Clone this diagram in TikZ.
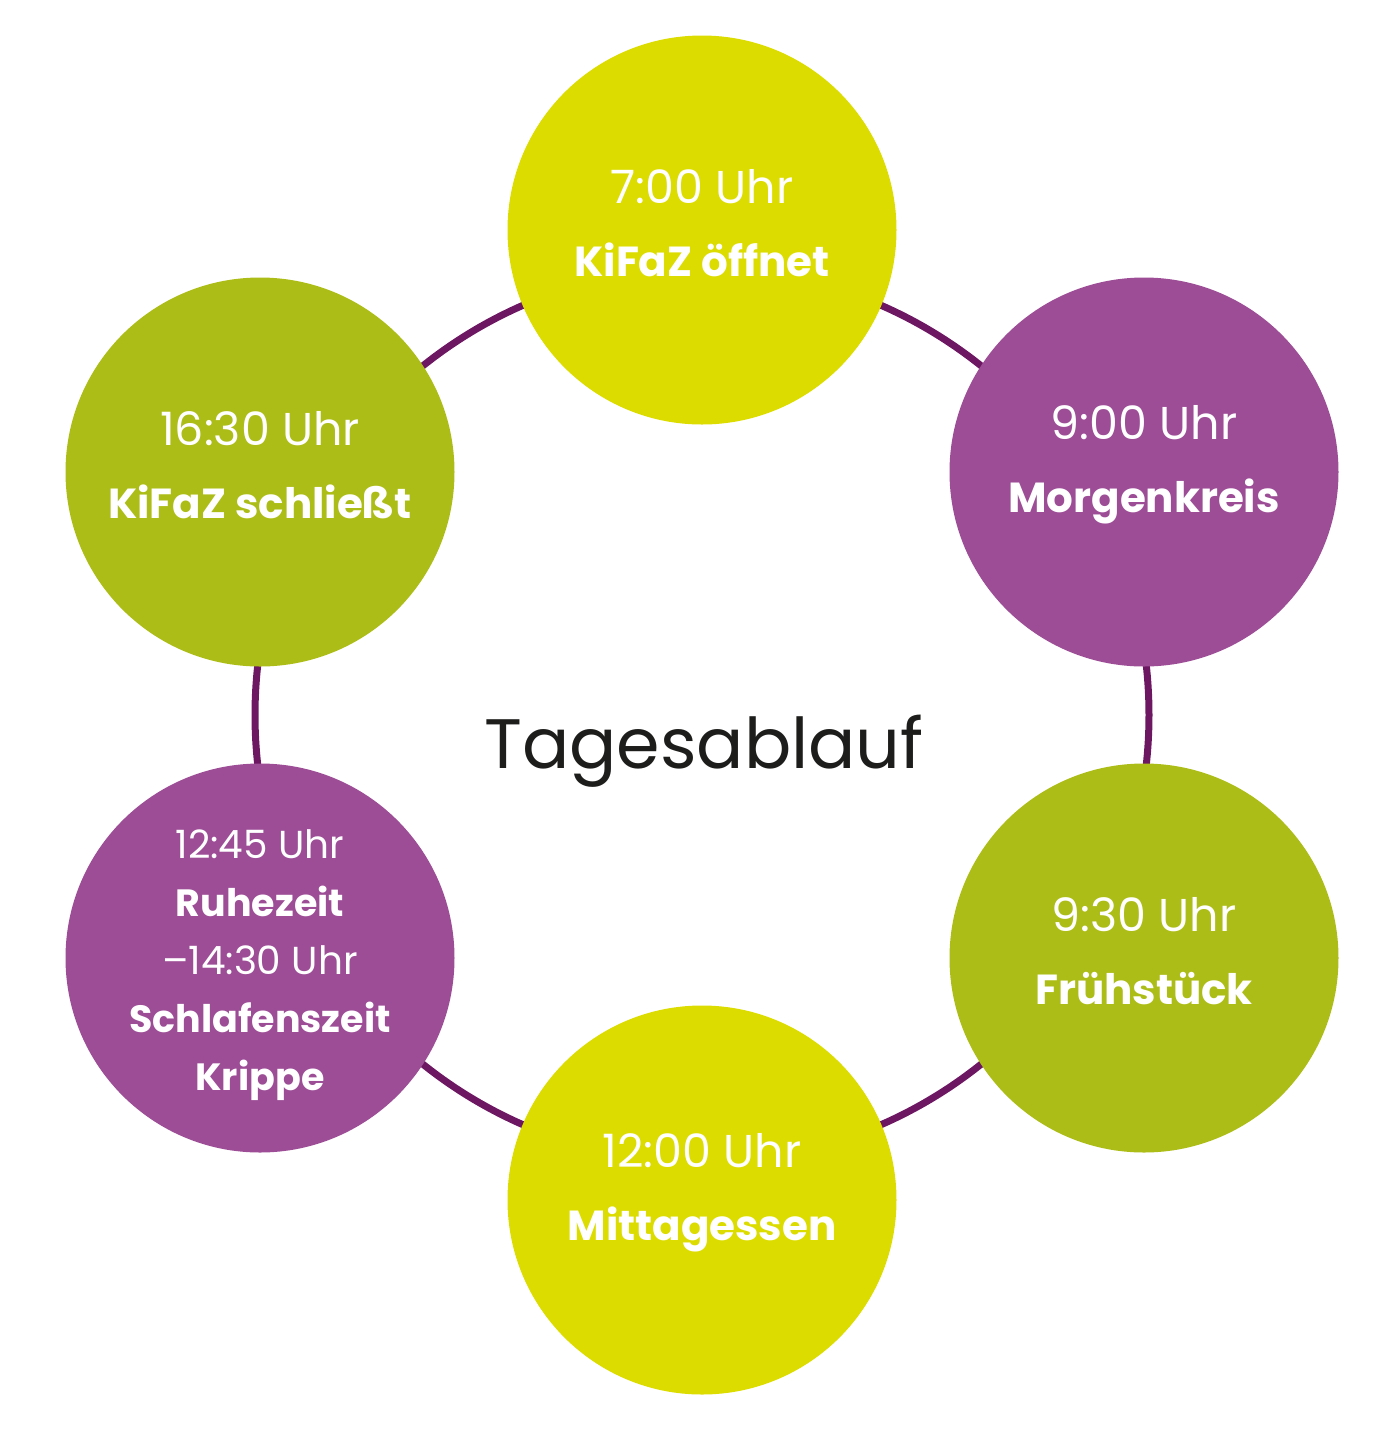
\documentclass[tikz,border=0pt]{standalone}
\usepackage{fontspec}
\setmainfont{Poppins}
\usetikzlibrary{positioning}
\definecolor{dayLime}{HTML}{DCDC00}
\definecolor{dayOlive}{HTML}{ADBD17}
\definecolor{dayBerry}{HTML}{9C4D96}
\definecolor{dayRing}{HTML}{6D1762}
\definecolor{dayInk}{HTML}{1D1D1B}
\newcommand\hour[1]{{\fontsize{23}{36.5}\selectfont #1}}
\newcommand\smallhour[1]{{\fontsize{19.5}{29}\selectfont #1}}
\begin{document}
\begin{tikzpicture}[x=0.5pt,y=-0.5pt,
  slot/.style={circle, minimum size=194.5pt, inner sep=0pt},
  slottext/.style={text=white, align=center, inner sep=0pt, yshift=3.5pt, font=\fontsize{21}{36.5}\selectfont\bfseries},
  ring/.style={dayRing, line width=3.5pt},
  title/.style={text=dayInk, font=\fontsize{35}{45}\selectfont}]
        \useasboundingbox (0,0) rectangle (1395,1442);
        \coordinate (hub) at (702,715);
        \draw[ring] (hub) circle [radius=223.5pt];
        % the six stations of the day
        \node[slot, fill=dayLime] (open) at (702,230) {};
        \node[slot, fill=dayBerry] (morning) at (1144,472) {};
        \node[slot, fill=dayOlive] (breakfast) at (1144,958) {};
        \node[slot, fill=dayLime] (lunch) at (702,1200) {};
        \node[slot, fill=dayBerry] (rest) at (260,958) {};
        \node[slot, fill=dayOlive] (close) at (260,472) {};
        % their texts
        \node[slottext] (opentext) at (open) {\hour{\mdseries 7:00 Uhr}\\KiFaZ öffnet};
        \node[slottext] (morningtext) at (morning) {\hour{\mdseries 9:00 Uhr}\\Morgenkreis};
        \node[slottext] (breakfasttext) at (breakfast) {\hour{\mdseries 9:30 Uhr}\\Frühstück};
        \node[slottext] (lunchtext) at (lunch) {\hour{\mdseries 12:00 Uhr}\\Mittagessen};
        \node[slottext, yshift=-7pt, font=\fontsize{19}{29}\selectfont\bfseries] (resttext) at (rest)
          {\smallhour{\mdseries 12:45 Uhr}\\Ruhezeit\\\smallhour{\mdseries –14:30 Uhr}\\Schlafenszeit\\Krippe};
        \node[slottext] (closetext) at (close) {\hour{\mdseries 16:30 Uhr}\\KiFaZ schließt};
        \node[title, anchor=base] (day) at (704,768) {Tagesablauf};
        \end{tikzpicture}
\end{document}
